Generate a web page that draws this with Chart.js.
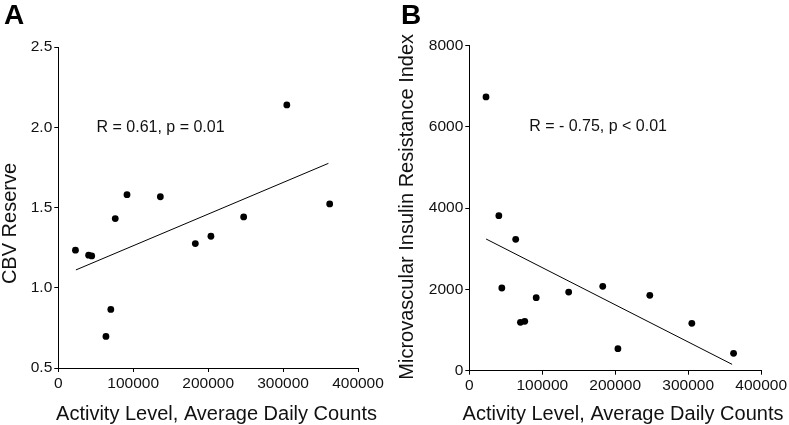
<!DOCTYPE html>
<html>
<head>
<meta charset="utf-8">
<script src="https://cdn.jsdelivr.net/npm/chart.js@4.4.1/dist/chart.umd.min.js"></script>
<style>
  body { margin: 0; background: #fff; width: 789px; height: 425px; position: relative; overflow: hidden; }
  canvas { position: absolute; top: 0; }
  #chartA { left: 0; }
  #chartB { left: 395px; }
  .panel-letter { position: absolute; font: bold 28px "Liberation Sans", Arial, sans-serif; line-height: 28px; color: #000; }
</style>
</head>
<body>
<canvas id="chartA" width="395" height="425"></canvas>
<canvas id="chartB" width="394" height="425"></canvas>
<div class="panel-letter" style="left:4px;top:1px">A</div>
<div class="panel-letter" style="left:401px;top:1px">B</div>
<script>
// activity (average daily counts) for the 13 subjects, shared by both panels
const activityCounts = [22900, 40500, 44600, 63600, 70100, 76000, 91700, 136200, 182900, 203700, 247400, 305000, 362200];
const cbvReserve = [1.234, 1.203, 1.198, 0.697, 0.865, 1.431, 1.580, 1.567, 1.275, 1.321, 1.441, 2.139, 1.522];
const insulinResistance = [6730, 3811, 2033, 3230, 1189, 1213, 1795, 1934, 2074, 541, 1852, 1164, 426];

// regression line end points
const cbvTrendX = [23500, 360500];
const cbvTrendY = [1.111, 1.775];
const irTrendX = [23000, 360200];
const irTrendY = [3238, 156];

const xTicks = [0, 100000, 200000, 300000, 400000];
const cbvTicks = [0.5, 1.0, 1.5, 2.0, 2.5];
const irTicks = [0, 2000, 4000, 6000, 8000];

const FONT = 'Liberation Sans, Arial, sans-serif';
const INK = '#111';

// draws the axis titles and the R/p note
const textPlugin = {
    id: 'panelText',
    afterDraw(chart, args, opts) {
        const ctx = chart.ctx;
        ctx.save();
        ctx.fillStyle = INK;
        ctx.font = '20px ' + FONT;
        ctx.textBaseline = 'alphabetic';
        ctx.textAlign = 'center';
        ctx.fillText(opts.xTitle, opts.xTitlePos[0], opts.xTitlePos[1]);

        ctx.save();
        ctx.translate(opts.yTitlePos[0], opts.yTitlePos[1]);
        ctx.rotate(-Math.PI / 2);
        ctx.fillText(opts.yTitle, 0, 0);
        ctx.restore();

        const xs = chart.scales.x, ys = chart.scales.y;
        ctx.font = '16px ' + FONT;
        ctx.textAlign = 'left';
        ctx.textBaseline = 'middle';
        ctx.fillText(opts.note, xs.getPixelForValue(opts.noteAt[0]), ys.getPixelForValue(opts.noteAt[1]));
        ctx.restore();
    }
};

function toPoints(xs, ys) {
    return xs.map((x, i) => ({ x: x, y: ys[i] }));
}

function makePanel(id, p) {
    const axis = (ticks, fmt, fixSize) => ({
        type: 'linear',
        min: ticks[0],
        max: ticks[ticks.length - 1],
        afterBuildTicks: s => { s.ticks = ticks.map(v => ({ value: v })); },
        afterFit: fixSize,
        border: { display: true, color: '#000', width: 1 },
        grid: { display: true, drawOnChartArea: false, drawTicks: true, tickLength: 4, color: '#000' },
        ticks: { color: INK, padding: 2, maxRotation: 0, autoSkip: false, font: { family: FONT, size: 15.5 }, callback: fmt }
    });

    return new Chart(document.getElementById(id), {
        type: 'scatter',
        data: {
            datasets: [
                {
                    data: toPoints(activityCounts, p.values),
                    backgroundColor: '#000',
                    borderWidth: 0,
                    pointRadius: 3.4
                },
                {
                    type: 'line',
                    data: toPoints(p.trendX, p.trendY),
                    borderColor: '#000',
                    borderWidth: 1,
                    pointRadius: 0,
                    fill: false
                }
            ]
        },
        options: {
            responsive: false,
            animation: false,
            layout: { padding: p.padding },
            plugins: {
                legend: { display: false },
                tooltip: { enabled: false },
                panelText: p.text
            },
            scales: {
                x: axis(xTicks, v => String(v), s => { s.height = p.xAxisHeight; }),
                y: axis(p.yTicks, p.yFormat, s => { s.width = p.yAxisWidth; })
            }
        },
        plugins: [textPlugin]
    });
}

makePanel('chartA', {
    values: cbvReserve,
    trendX: cbvTrendX,
    trendY: cbvTrendY,
    yTicks: cbvTicks,
    yFormat: v => v.toFixed(1),
    padding: { left: 0, right: 37, top: 47, bottom: 0 },
    yAxisWidth: 58.3,
    xAxisHeight: 57,
    text: {
        xTitle: 'Activity Level, Average Daily Counts',
        xTitlePos: [216.5, 419.5],
        yTitle: 'CBV Reserve',
        yTitlePos: [15.5, 223.5],
        note: 'R = 0.61, p = 0.01',
        noteAt: [51000, 2.0]
    }
});

makePanel('chartB', {
    values: insulinResistance,
    trendX: irTrendX,
    trendY: irTrendY,
    yTicks: irTicks,
    yFormat: v => String(v),
    padding: { left: 0, right: 24.7, top: 45.3, bottom: 0 },
    yAxisWidth: 74.3,
    xAxisHeight: 54.3,
    text: {
        xTitle: 'Activity Level, Average Daily Counts',
        xTitlePos: [228, 419.5],
        yTitle: 'Microvascular Insulin Resistance Index',
        yTitlePos: [17.5, 206.8],
        note: 'R = - 0.75, p < 0.01',
        noteAt: [82000, 6000]
    }
});
</script>
</body>
</html>
